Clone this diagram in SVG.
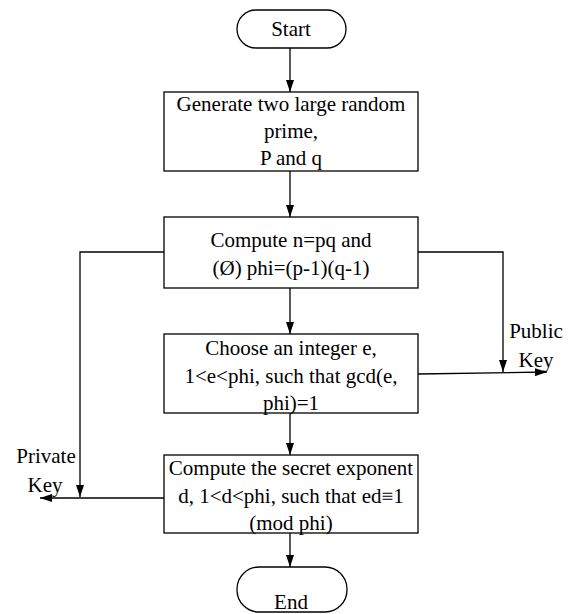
<svg xmlns="http://www.w3.org/2000/svg" width="571" height="614" viewBox="0 0 571 614">
<style>
.n{fill:#fff;stroke:#000;stroke-width:1.3}
.t{font-family:"Liberation Serif","Times New Roman",serif;font-size:21px;fill:#000;text-anchor:middle}
.c{fill:none;stroke:#000;stroke-width:1.3}
</style>
<defs>
<marker id="a" viewBox="0 0 12 8" refX="12" refY="4" markerWidth="12" markerHeight="8" markerUnits="userSpaceOnUse" orient="auto">
<path d="M0,0L12,4L0,8z" fill="#000"/>
</marker>
</defs>
<rect width="571" height="614" fill="#fff"/>
<g id="connectors">
<path class="c" d="M290,48V92" marker-end="url(#a)"/>
<path class="c" d="M290,171V217" marker-end="url(#a)"/>
<path class="c" d="M290,288V334" marker-end="url(#a)"/>
<path class="c" d="M290,413V455" marker-end="url(#a)"/>
<path class="c" d="M290,533V567" marker-end="url(#a)"/>
<path class="c" d="M164,252H80V497" marker-end="url(#a)"/>
<path class="c" d="M164,498H40" marker-end="url(#a)"/>
<path class="c" d="M418,252H503V372" marker-end="url(#a)"/>
<path class="c" d="M418,374L547,372" marker-end="url(#a)"/>
</g>
<g id="start">
<rect class="n" x="237" y="10" width="109" height="38" rx="19"/>
<text class="t" x="291" y="36">Start</text>
</g>
<g id="generate">
<rect class="n" x="164" y="92" width="254" height="79"/>
<text class="t" x="291" y="111">Generate two large random</text>
<text class="t" x="291" y="138">prime,</text>
<text class="t" x="291" y="165">P and q</text>
</g>
<g id="compute-n">
<rect class="n" x="164" y="217" width="254" height="71"/>
<text class="t" x="291" y="247">Compute n=pq and</text>
<text class="t" x="291" y="275">(Ø) phi=(p-1)(q-1)</text>
</g>
<g id="choose-e">
<rect class="n" x="164" y="334" width="254" height="79"/>
<text class="t" x="291" y="355">Choose an integer e,</text>
<text class="t" x="291" y="383">1&lt;e&lt;phi, such that gcd(e,</text>
<text class="t" x="291" y="410">phi)=1</text>
</g>
<g id="compute-d">
<rect class="n" x="164" y="455" width="254" height="78"/>
<text class="t" x="291" y="475">Compute the secret exponent</text>
<text class="t" x="291" y="503">d, 1&lt;d&lt;phi, such that ed≡1</text>
<text class="t" x="291" y="530">(mod phi)</text>
</g>
<g id="end">
<rect class="n" x="237" y="567" width="110" height="45" rx="22"/>
<text class="t" x="291" y="609">End</text>
</g>
<g id="public-key">
<text class="t" x="536" y="338">Public</text>
<text class="t" x="536" y="367">Key</text>
</g>
<g id="private-key">
<text class="t" x="46" y="463">Private</text>
<text class="t" x="45" y="492">Key</text>
</g>
</svg>
